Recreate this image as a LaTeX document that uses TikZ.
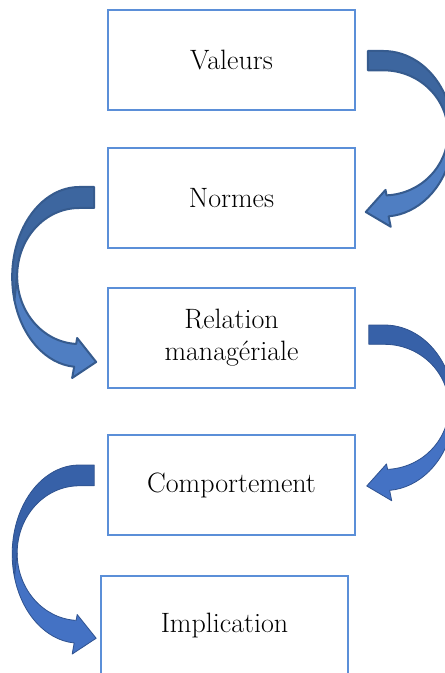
\documentclass[tikz,border=0pt]{standalone}
\usepackage{xcolor}
\usepackage{tikz}
\usetikzlibrary{positioning, calc}

\definecolor{boxline}{HTML}{5B8FD8}
\definecolor{oldback}{HTML}{3D669F}
\definecolor{oldfront}{HTML}{4F7EC2}
\definecolor{oldline}{HTML}{365B8E}
\definecolor{newback}{HTML}{3761A8}
\definecolor{newfront}{HTML}{4472C4}
\definecolor{newline}{HTML}{2F528F}

\tikzset{
    % curved ribbon arrow: tail at (0,0), bends out along +x and comes back with its head
    bendarrow/.pic={
        \path[back part] (0,0) -- (15,0)
            arc[start angle=-90, end angle=15, x radius=67, y radius=90]
            -- (77,89)
            arc[start angle=0, end angle=-90, x radius=62, y radius=68]
            -- (0,21) -- cycle;
        \path[front part] (77,89) -- (79.72,113.29)
            arc[start angle=15, end angle=85.72, x radius=67, y radius=90]
            -- (22,191) -- (-2,175) -- (17,151) -- (18,156.92)
            arc[start angle=87.23, end angle=0, x radius=62, y radius=68] -- cycle;
    },
}

\begin{document}
\begin{tikzpicture}[
    x=0.75pt, y=-0.75pt,
    every node/.style={font=\fontsize{21}{24}\selectfont},
    box/.style={draw=boxline, line width=1.5pt, minimum width=185pt, minimum height=75pt, align=center, fill=white},
    oldtone/.style={
        back part/.style={fill=oldback, draw=oldline, line width=1.5pt, line join=round},
        front part/.style={fill=oldfront, draw=oldline, line width=1.5pt, line join=round}},
    newtone/.style={
        back part/.style={fill=newback, draw=newline, line width=0.6pt, line join=round},
        front part/.style={fill=newfront, draw=newline, line width=0.6pt, line join=round}},
]
\useasboundingbox (0,0) rectangle (445,673);
\clip (0,0) rectangle (445,673);

% === Main column (top to bottom) ===
\node[box] (valeurs) at (231.5,60) {Valeurs};
\node[box, below=27pt of valeurs] (normes) {Normes};
\node[box, below=28.5pt of normes] (relation) {Relation\\manag\'eriale};
\node[box, below=33.75pt of relation] (comportement) {Comportement};
\node[box, below=29.25pt of comportement, xshift=-5.25pt] (implication) {Implication};

% === Curved arrows, alternating sides ===
\pic[oldtone, xscale=1.04, yscale=0.92] at ($(valeurs.east)+(12,-9)$) {bendarrow};
\pic[oldtone, xscale=-1] at ($(normes.west)+(-13,-11)$) {bendarrow};
\pic[newtone, xscale=1.04, yscale=0.92] at ($(relation.east)+(13,-13)$) {bendarrow};
\pic[newtone, xscale=-1, yscale=0.99] at ($(comportement.west)+(-13,-20)$) {bendarrow};

\end{tikzpicture}
\end{document}
